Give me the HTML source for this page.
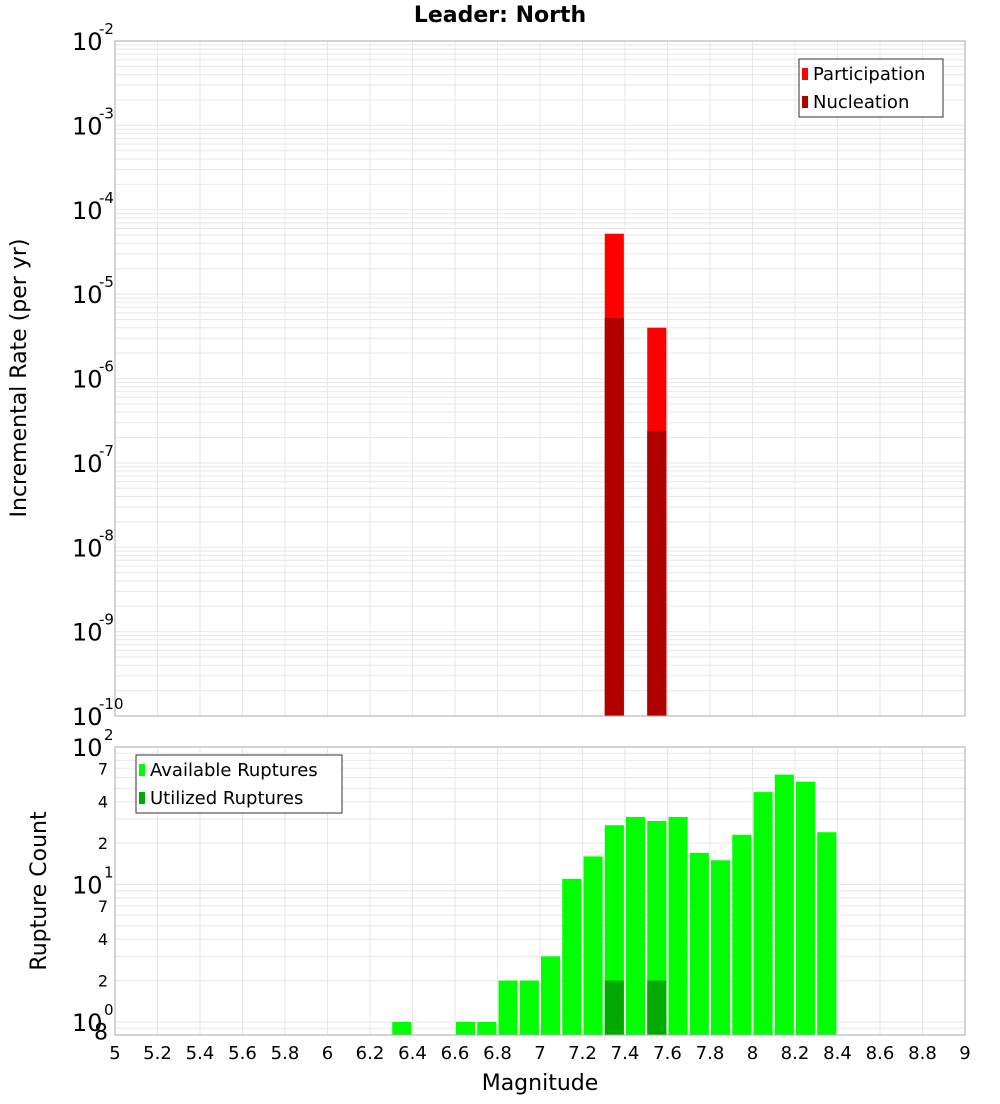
<!DOCTYPE html>
<html><head><meta charset="utf-8"><style>
body{margin:0;background:#fff;font-family:"DejaVu Sans","Liberation Sans",sans-serif}
svg text{font-family:"DejaVu Sans","Liberation Sans",sans-serif}
</style></head><body>
<svg id="c" width="1000" height="1100" xmlns="http://www.w3.org/2000/svg">
<text x="500" y="22" text-anchor="middle" font-size="22" font-weight="bold">Leader: North</text>
<g id="topG"></g>
<g id="botG"></g>
<text transform="translate(26,378) rotate(-90)" text-anchor="middle" font-size="22">Incremental Rate (per yr)</text>
<text transform="translate(46,891) rotate(-90)" text-anchor="middle" font-size="22">Rupture Count</text>
<text x="540" y="1090" text-anchor="middle" font-size="22">Magnitude</text>
</svg>
<script>
const rateMags=[7.3,7.5];
const participation=[5.2e-5,4.0e-6];
const nucleation=[5.2e-6,2.4e-7];
const countMags=[6.3,6.6,6.7,6.8,6.9,7.0,7.1,7.2,7.3,7.4,7.5,7.6,7.7,7.8,7.9,8.0,8.1,8.2,8.3];
const available=[1,1,1,2,2,3,11,16,27,31,29,31,17,15,23,47,63,56,24];
const utilMags=[7.3,7.5];
const utilized=[2,2];
const xTicks=["5","5.2","5.4","5.6","5.8","6","6.2","6.4","6.6","6.8","7","7.2","7.4","7.6","7.8","8","8.2","8.4","8.6","8.8","9"];
const rateExps=[-10,-9,-8,-7,-6,-5,-4,-3,-2];
const countMinor=["8","2","4","7","2","4","7"];
const minorVals=[0.8,2,4,7,20,40,70];

const NS="http://www.w3.org/2000/svg";
const L=115,R=965;
const x=m=>L+(m-5)/4*(R-L);
function el(p,t,a){const e=document.createElementNS(NS,t);for(const k in a)e.setAttribute(k,a[k]);p.appendChild(e);return e;}
const T1=41,B1=716,yr=v=>B1-(Math.log10(v)+10)/8*(B1-T1);
const T2=747,B2=1035,yc=v=>1022-Math.log10(v)*137.5;
const topG=document.getElementById('topG'),botG=document.getElementById('botG');

function grid(g,T,B,hy){
  for(let i=0;i<=20;i++){const xx=x(5+i*0.2);const l=el(g,'line',{x1:xx,x2:xx,y1:T,y2:B,stroke:'#e8e8e8'});
  
  }
  hy.forEach(yy=>{if(yy>=T&&yy<=B){const l=el(g,'line',{x1:L,x2:R,y1:yy,y2:yy,stroke:'#e8e8e8'});
  
  }});
}
let hy=[];for(let e=-10;e<-2;e++)for(let k=1;k<10;k++)hy.push(yr(k*Math.pow(10,e)));hy.push(yr(1e-2));
grid(topG,T1,B1,hy);
hy=[];for(let e=-1;e<2;e++)for(let k=1;k<10;k++)hy.push(yc(k*Math.pow(10,e)));hy.push(yc(100));
grid(botG,T2,B2,hy);

const bw=0.09*(R-L)/4;
rateMags.forEach((m,i)=>{
  const r=el(topG,'rect',{x:x(m)+1,y:yr(participation[i]),width:bw,height:B1-yr(participation[i]),fill:'#ff0000'});
  
  
  const n=el(topG,'rect',{x:x(m)+1,y:yr(nucleation[i]),width:bw,height:B1-yr(nucleation[i]),fill:'#b00000'});
  
  
});
countMags.forEach((m,i)=>{
  const r=el(botG,'rect',{x:x(m)+1,y:yc(available[i]),width:bw,height:B2-yc(available[i]),fill:'#00ff00'});
  
  
});
utilMags.forEach((m,i)=>{
  const r=el(botG,'rect',{x:x(m)+1,y:yc(utilized[i]),width:bw,height:B2-yc(utilized[i]),fill:'#00aa00'});
  
  
});
[[topG,T1,B1],[botG,T2,B2]].forEach(([g,T,B])=>{const f=el(g,'rect',{x:L,y:T,width:R-L,height:B-T,fill:'none',stroke:'#aaa'});

});

rateExps.forEach(e=>{const yy=yr(Math.pow(10,e));
  const t=el(topG,'text',{x:72,y:yy+9,'font-size':24});t.textContent='10';
  
  
  const s=el(topG,'text',{x:99,y:yy-7,'font-size':15});s.textContent=String(e);
  
  });
[[2,100],[1,10],[0,1]].forEach(([e,v])=>{const yy=yc(v);
  const t=el(botG,'text',{x:72,y:yy+9,'font-size':24});t.textContent='10';
  
  
  const s=el(botG,'text',{x:104,y:yy-7,'font-size':15});s.textContent=String(e);
  
  });
minorVals.forEach((v,i)=>{const t=el(botG,'text',{x:108,y:yc(v)+(i==0?4:6),'font-size':i==0?22:16,'text-anchor':'end'});
  t.textContent=countMinor[i];
  
  });
xTicks.forEach(s=>{const t=el(botG,'text',{x:x(+s),y:1059,'font-size':18,'text-anchor':'middle'});t.textContent=s;
  
  });

function legend(g,bx,by,w,items){
  const lg=el(g,'g',{});
  
  
  el(lg,'rect',{x:bx,y:by,width:w,height:58,fill:'#fff',stroke:'#333'});
  items.forEach(([c,s],i)=>{const e=el(lg,'g',{});
    
    
    el(e,'rect',{x:bx+3,y:by+9+i*28,width:6,height:12,fill:c});
    const t=el(e,'text',{x:bx+14,y:by+21+i*28,'font-size':18});t.textContent=s;});
}
legend(topG,799,59,144,[['#ff0000','Participation'],['#b00000','Nucleation']]);
legend(botG,136,755,206,[['#00ff00','Available Ruptures'],['#00aa00','Utilized Ruptures']]);
</script>
</body></html>
